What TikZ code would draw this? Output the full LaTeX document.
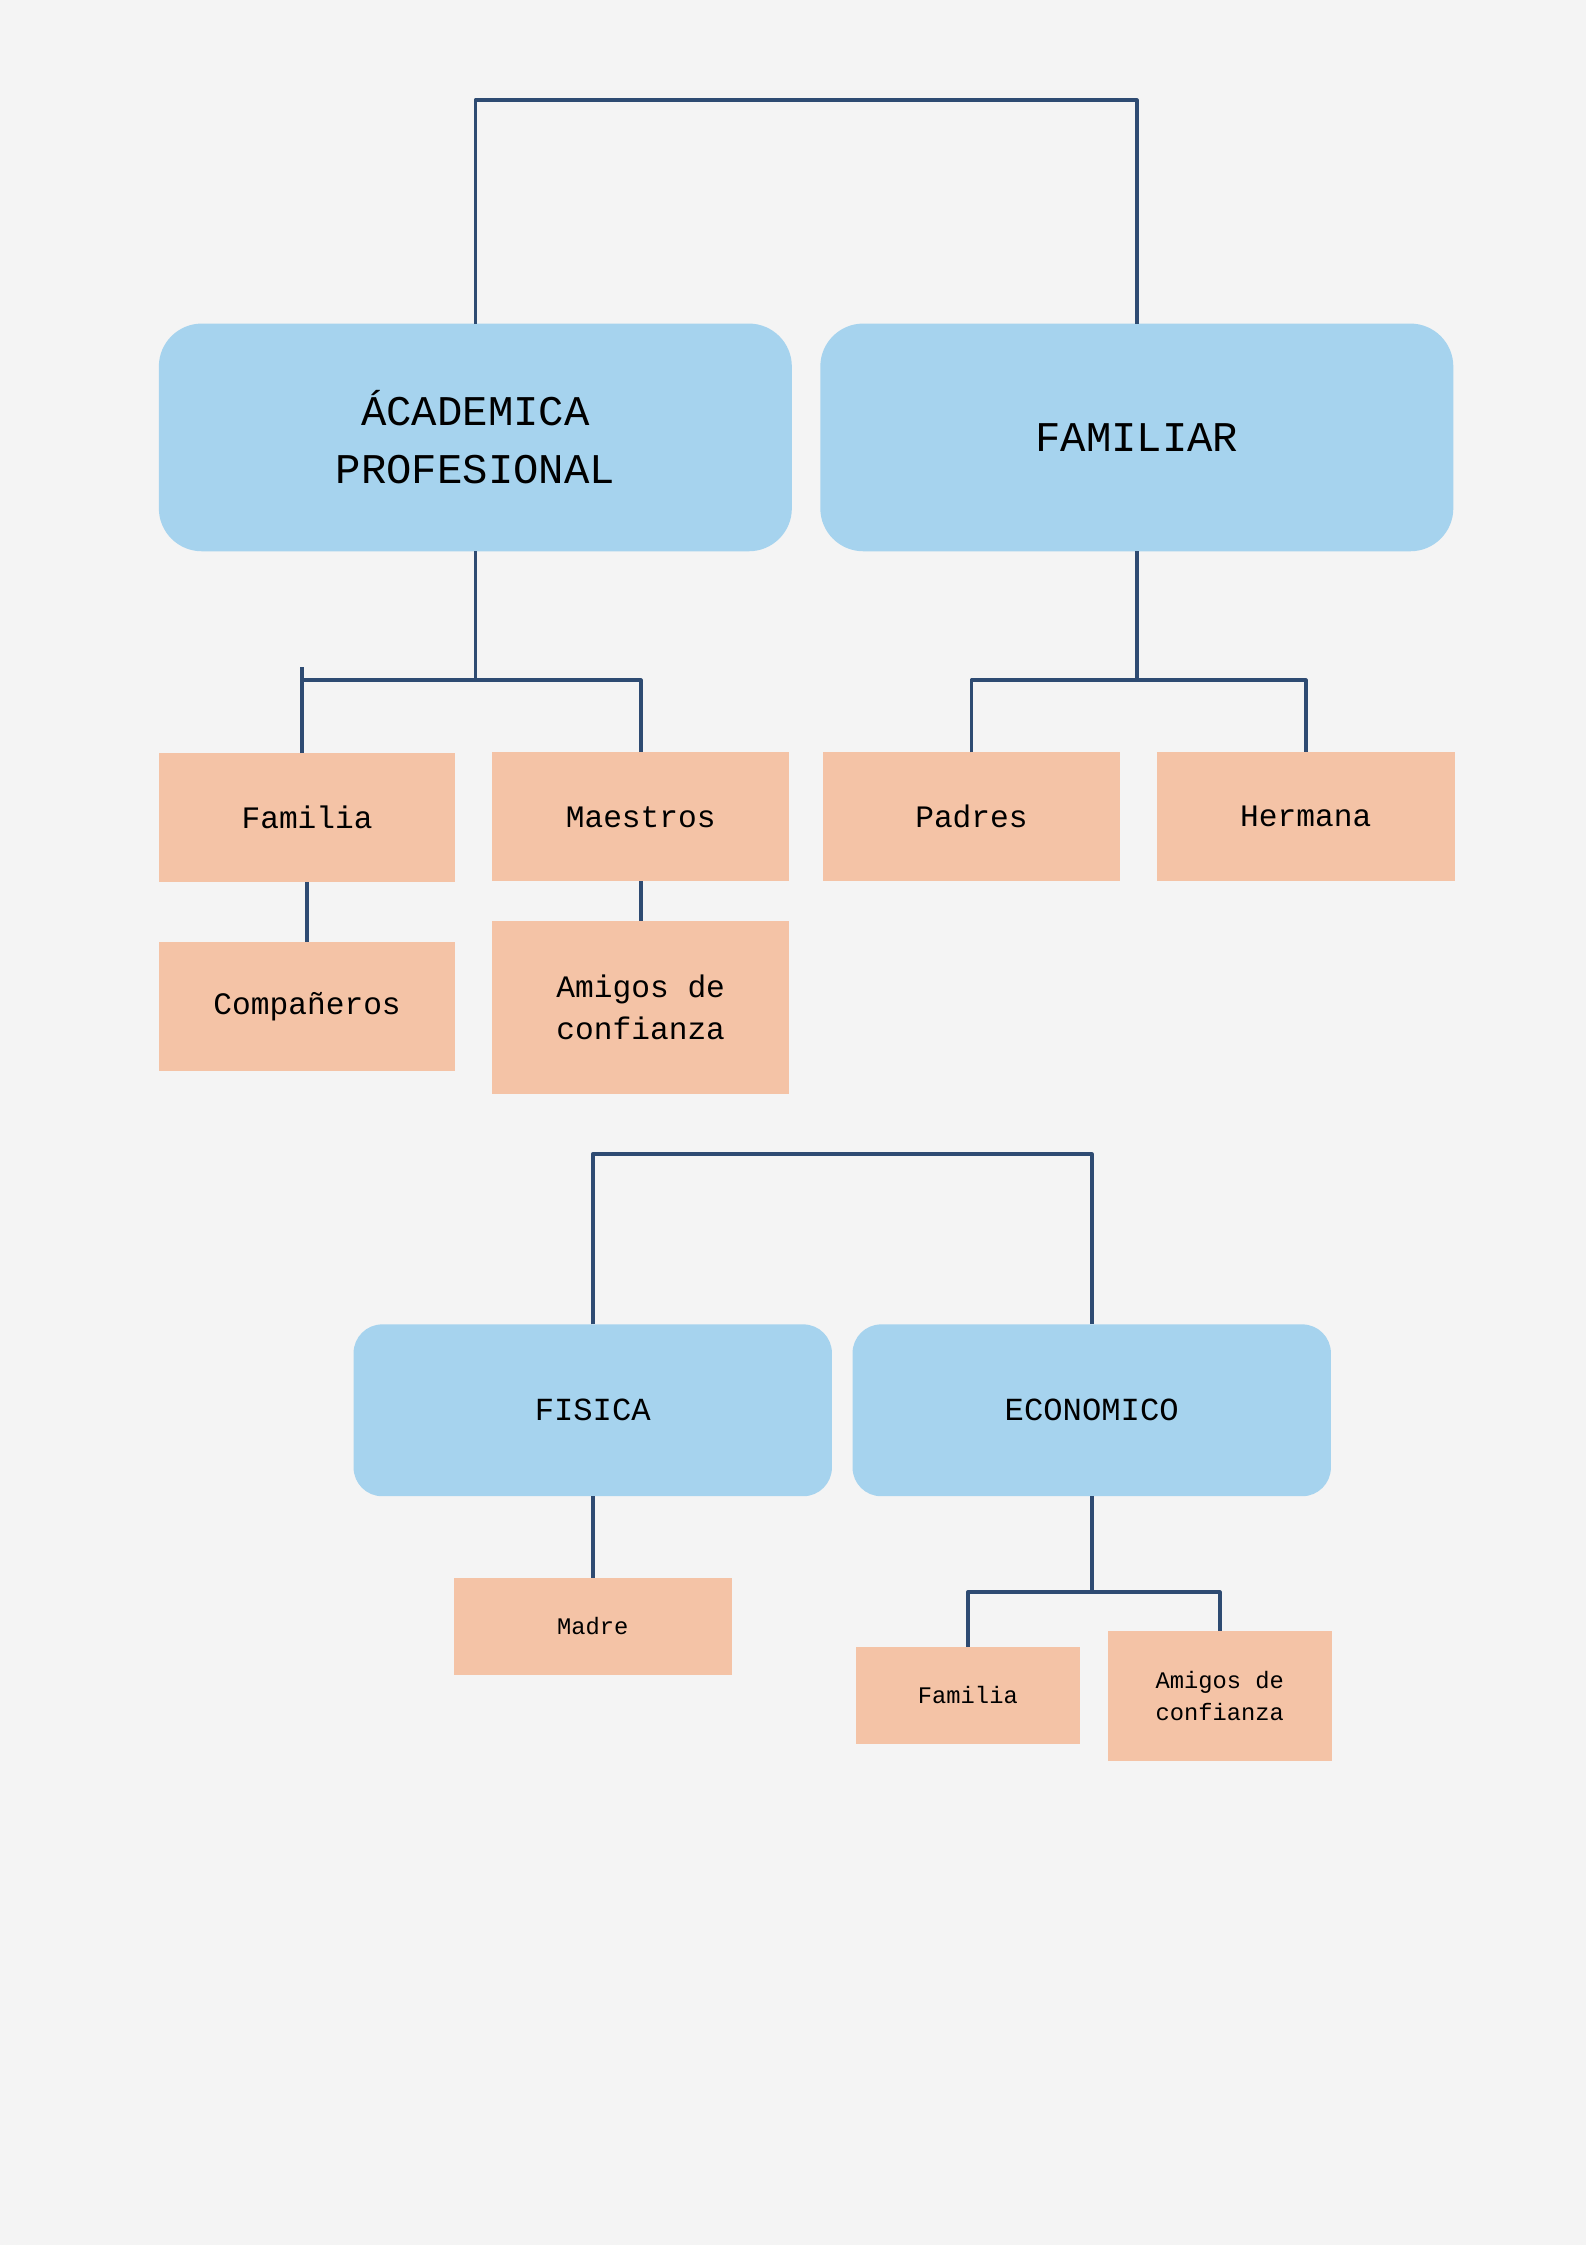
\documentclass[tikz,border=0pt]{standalone}
\usepackage{fontspec}
\newfontfamily\monof{Liberation Mono}
\definecolor{bgc}{HTML}{F4F4F4}
\definecolor{bluec}{HTML}{A6D3EE}
\definecolor{peachc}{HTML}{F4C3A6}
\definecolor{linec}{HTML}{2E4B72}
\tikzset{
  bigbox/.style={fill=bluec, rounded corners=0.75cm, inner sep=0pt, outer sep=0pt,
    minimum width=11.05cm, minimum height=3.975cm, align=center,
    font=\monof\fontsize{21}{29}\selectfont},
  midbox/.style={fill=bluec, rounded corners=0.5cm, inner sep=0pt, outer sep=0pt,
    minimum width=8.35cm, minimum height=3cm, align=center,
    font=\monof\fontsize{16}{20}\selectfont},
  leafbox/.style={fill=peachc, inner sep=0pt, outer sep=0pt,
    minimum width=5.175cm, minimum height=2.25cm, align=center,
    font=\monof\fontsize{15.5}{21}\selectfont},
  smallbox/.style={fill=peachc, inner sep=0pt, outer sep=0pt,
    minimum width=3.9cm, minimum height=1.7cm, align=center,
    font=\monof\fontsize{11.8}{15.6}\selectfont},
  conn/.style={draw=linec, line width=1.8pt, line join=round},
}
\begin{document}
\begin{tikzpicture}[x=0.025cm,y=-0.025cm]
\fill[bgc] (0,0) rectangle (1108,1568);
\useasboundingbox (0,0) rectangle (1108,1568);

% top level
\node[bigbox] (acad) at (332,305.5) {ÁCADEMICA\\PROFESIONAL};
\node[bigbox] (fam) at (794,305.5) {FAMILIAR};

% second level
\node[leafbox] (familia) at (214.5,571) {Familia};
\node[leafbox] (maestros) at (447.5,570.5) {Maestros};
\node[leafbox] (comp) at (214.5,703) {Compañeros};
\node[leafbox, minimum height=3.025cm] (amigos) at (447.5,703.5) {Amigos de\\confianza};
\node[leafbox] (padres) at (678.5,570.5) {Padres};
\node[leafbox, minimum width=5.2cm] (hermana) at (912,570.5) {Hermana};

% lower tree
\node[midbox] (fisica) at (414,985) {FISICA};
\node[midbox] (econ) at (762.5,985) {ECONOMICO};
\node[smallbox, minimum width=4.85cm] (madre) at (414,1136) {Madre};
\node[smallbox] (familia2) at (676,1184) {Familia};
\node[smallbox, minimum height=2.275cm] (amigos2) at (852,1184.5) {Amigos de\\confianza};

% helper coordinates
\coordinate (topbar) at (0,70);
\coordinate (barA) at (0,475);
\coordinate (tickA) at (211,466);
\coordinate (bar2) at (0,806);
\coordinate (bar3) at (0,1112);

% connectors
\draw[conn] (acad.north) |- (fam.north |- topbar) -- (fam.north);
\draw[conn] (acad.south) -- (acad.south |- barA);
\draw[conn] (familia.north -| tickA) -- (tickA);
\draw[conn] (tickA |- barA) -- (maestros.north |- barA) -- (maestros.north);
\draw[conn] (familia.south) -- (comp.north);
\draw[conn] (maestros.south) -- (amigos.north);
\draw[conn] (fam.south) -- (fam.south |- barA);
\draw[conn] (padres.north) |- (hermana.north |- barA) -- (hermana.north);

\draw[conn] (fisica.north) |- (econ.north |- bar2) -- (econ.north);
\draw[conn] (fisica.south) -- (madre.north);
\draw[conn] (econ.south) -- (econ.south |- bar3);
\draw[conn] (familia2.north) |- (amigos2.north |- bar3) -- (amigos2.north);
\end{tikzpicture}
\end{document}
